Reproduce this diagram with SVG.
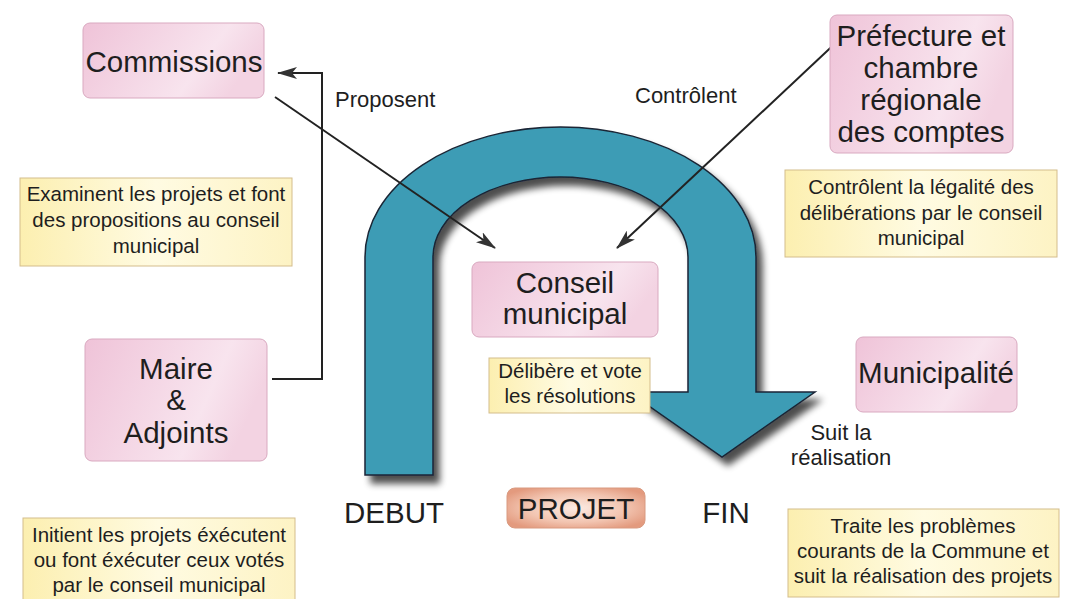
<svg xmlns="http://www.w3.org/2000/svg" width="1078" height="599" viewBox="0 0 1078 599">
  <defs>
    <linearGradient id="gPink" x1="0" y1="0" x2="1" y2="0.3">
      <stop offset="0" stop-color="#efc3d8"/>
      <stop offset="0.75" stop-color="#f8e4ee"/>
      <stop offset="1" stop-color="#f3d3e2"/>
    </linearGradient>
    <linearGradient id="gYellow" x1="0" y1="0" x2="1" y2="0">
      <stop offset="0" stop-color="#fcefb0"/>
      <stop offset="0.5" stop-color="#fffbe2"/>
      <stop offset="1" stop-color="#fdf3c4"/>
    </linearGradient>
    <radialGradient id="gSalmon" cx="0.5" cy="0.5" r="0.6">
      <stop offset="0" stop-color="#fcebe3"/>
      <stop offset="0.6" stop-color="#f2c4b0"/>
      <stop offset="1" stop-color="#e39a7e"/>
    </radialGradient>
    <filter id="shadow" x="-10%" y="-10%" width="130%" height="130%">
      <feGaussianBlur in="SourceAlpha" stdDeviation="3.5"/>
      <feOffset dx="6" dy="8" result="b"/>
      <feComponentTransfer><feFuncA type="linear" slope="0.7"/></feComponentTransfer>
      <feMerge><feMergeNode/><feMergeNode in="SourceGraphic"/></feMerge>
    </filter>
    <marker id="arrow" viewBox="0 0 20 12" refX="19" refY="6" markerWidth="20" markerHeight="12" markerUnits="userSpaceOnUse" orient="auto">
      <path d="M0,0 L20,6 L0,12 L5,6 Z" fill="#333"/>
    </marker>
  </defs>
  <style>
    text { font-family: "Liberation Sans", Arial, Helvetica, sans-serif; fill: #1e1e1e; }
    .big { font-size: 29.5px; text-anchor: middle; }
    .small { font-size: 20.5px; text-anchor: middle; }
    .lbl { font-size: 22px; }
    .pink { fill: url(#gPink); stroke: #d9a9c0; stroke-width: 1; }
    .yel { fill: url(#gYellow); stroke: #d4bd8c; stroke-width: 1; }
    .conn { fill: none; stroke: #222; stroke-width: 2; }
  </style>
  <rect width="1078" height="599" fill="#ffffff"/>

  <g id="cycle-arrow">
    <path d="M 365,475 L 365,257 A 195.5,130 0 0 1 756,257 L 756,392 L 815,392 L 722,457 L 629,392 L 688,392 L 688,257 A 127.5,80 0 0 0 433,257 L 433,475 Z" fill="#3e9cb5" stroke="#1a2535" stroke-width="1.5" filter="url(#shadow)"/>
  </g>

  <g id="connectors">
    <polyline class="conn" points="272,379 322,379 322,73 278,73" marker-end="url(#arrow)"/>
    <line class="conn" x1="275" y1="97" x2="495" y2="248" marker-end="url(#arrow)"/>
    <line class="conn" x1="842" y1="37" x2="617" y2="248" marker-end="url(#arrow)"/>
  </g>

  <g id="commissions">
    <rect class="pink" x="83" y="23" width="181" height="75" rx="7"/>
    <text class="big" x="174" y="72">Commissions</text>
  </g>

  <g id="commissions-desc">
    <rect class="yel" x="20" y="178" width="272" height="88"/>
    <text class="small" x="156" y="201">Examinent les projets et font</text>
    <text class="small" x="156" y="227">des propositions au conseil</text>
    <text class="small" x="156" y="253">municipal</text>
  </g>

  <g id="maire">
    <rect class="pink" x="85" y="339" width="182" height="122" rx="7"/>
    <text class="big" x="176" y="379">Maire</text>
    <text class="big" x="176" y="410">&amp;</text>
    <text class="big" x="176" y="443">Adjoints</text>
  </g>

  <g id="maire-desc">
    <rect class="yel" x="23" y="518" width="272" height="92"/>
    <text class="small" x="159" y="542">Initient les projets éxécutent</text>
    <text class="small" x="159" y="567">ou font éxécuter ceux votés</text>
    <text class="small" x="159" y="592">par le conseil municipal</text>
  </g>

  <g id="conseil">
    <rect class="pink" x="472" y="262" width="186" height="75" rx="7"/>
    <text class="big" x="565" y="293">Conseil</text>
    <text class="big" x="565" y="324">municipal</text>
  </g>

  <g id="conseil-desc">
    <rect class="yel" x="489" y="358" width="161" height="55"/>
    <text class="small" x="570" y="378">Délibère et vote</text>
    <text class="small" x="570" y="403">les résolutions</text>
  </g>

  <g id="prefecture">
    <rect class="pink" x="830" y="15" width="183" height="138" rx="7"/>
    <text class="big" x="921" y="46">Préfecture et</text>
    <text class="big" x="921" y="78">chambre</text>
    <text class="big" x="921" y="110">régionale</text>
    <text class="big" x="921" y="142">des comptes</text>
  </g>

  <g id="prefecture-desc">
    <rect class="yel" x="785" y="170" width="272" height="87"/>
    <text class="small" x="921" y="194">Contrôlent la légalité des</text>
    <text class="small" x="921" y="220">délibérations par le conseil</text>
    <text class="small" x="921" y="245">municipal</text>
  </g>

  <g id="municipalite">
    <rect class="pink" x="856" y="337" width="161" height="75" rx="7"/>
    <text class="big" x="936" y="383">Municipalité</text>
  </g>

  <g id="municipalite-desc">
    <rect class="yel" x="788" y="509" width="271" height="88"/>
    <text class="small" x="923" y="533">Traite les problèmes</text>
    <text class="small" x="923" y="558">courants de la Commune et</text>
    <text class="small" x="923" y="583">suit la réalisation des projets</text>
  </g>

  <g id="projet">
    <rect x="507" y="488" width="138" height="40" rx="8" fill="url(#gSalmon)" stroke="#d99a80" stroke-width="1"/>
    <text class="big" x="576" y="519">PROJET</text>
  </g>

  <g id="labels">
    <text class="lbl" x="335" y="107">Proposent</text>
    <text class="lbl" x="635" y="103">Contrôlent</text>
    <text class="lbl" x="841" y="440" text-anchor="middle">Suit la</text>
    <text class="lbl" x="841" y="465" text-anchor="middle">réalisation</text>
    <text class="big" x="394" y="523">DEBUT</text>
    <text class="big" x="726" y="523">FIN</text>
  </g>
</svg>
